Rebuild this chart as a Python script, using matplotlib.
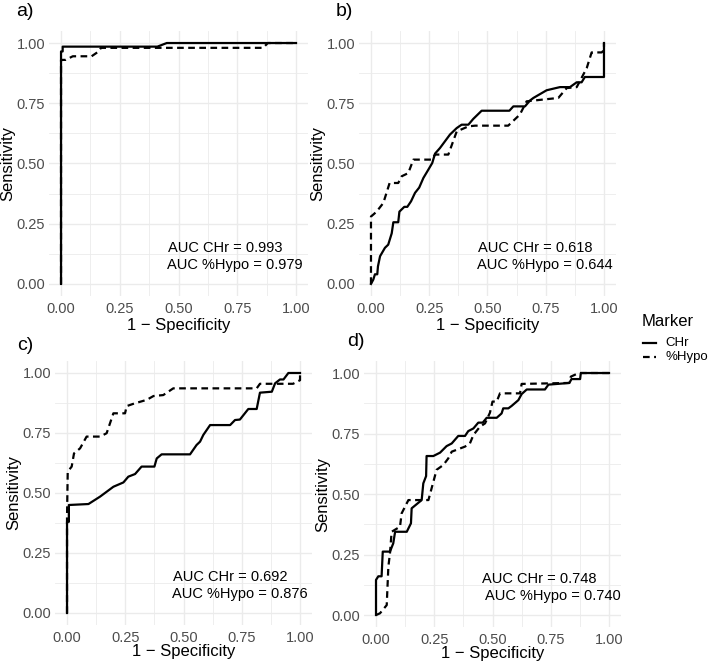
import matplotlib.pyplot as plt
from matplotlib.lines import Line2D

plt.rcParams['font.family'] = ['Liberation Sans', 'DejaVu Sans']

panel_labels = ['a)', 'b)', 'c)', 'd)']
auc_chr = ['0.993', '0.618', '0.692', '0.748']
auc_hypo = ['0.979', '0.644', '0.876', '0.740']
ticks = [0.0, 0.25, 0.5, 0.75, 1.0]
tick_labels = ['0.00', '0.25', '0.50', '0.75', '1.00']
legend_title = 'Marker'
legend_labels = ['CHr', '%Hypo']

# Panel a
a_chr_x = [0, 0, 0.007, 0.007, 0.41, 0.45, 1.0]
a_chr_y = [0, 0.965, 0.965, 0.985, 0.985, 1.0, 1.0]
a_hypo_x = [0, 0, 0.02, 0.05, 0.13, 0.16, 0.17, 0.86, 0.88, 1.0]
a_hypo_y = [0, 0.93, 0.93, 0.945, 0.945, 0.965, 0.98, 0.98, 1.0, 1.0]

# Panel b
b_chr_x = [0, 0.01, 0.017, 0.027, 0.03, 0.039, 0.06, 0.074, 0.089, 0.096, 0.117,
           0.122, 0.143, 0.156, 0.172, 0.189, 0.207, 0.225, 0.246, 0.263, 0.275,
           0.296, 0.339, 0.368, 0.389, 0.418, 0.439, 0.475, 0.594, 0.611, 0.661,
           0.682, 0.697, 0.754, 0.811, 0.854, 0.883, 0.904, 0.918, 1.0, 1.0, 1.0]
b_chr_y = [0, 0.018, 0.04, 0.04, 0.073, 0.115, 0.15, 0.163, 0.21, 0.256, 0.256,
           0.30, 0.32, 0.32, 0.343, 0.378, 0.40, 0.44, 0.474, 0.502, 0.541,
           0.564, 0.62, 0.647, 0.661, 0.661, 0.685, 0.719, 0.719, 0.737, 0.737,
           0.761, 0.772, 0.804, 0.817, 0.817, 0.837, 0.837, 0.859, 0.859, 0.903, 1.0]
b_hypo_x = [0, 0, 0.01, 0.024, 0.053, 0.08, 0.117, 0.132, 0.16, 0.182, 0.26,
            0.275, 0.332, 0.368, 0.418, 0.447, 0.589, 0.639, 0.668, 0.735, 0.804,
            0.84, 0.883, 0.926, 0.947, 0.99, 1.0, 1.0]
b_hypo_y = [0, 0.28, 0.288, 0.30, 0.336, 0.419, 0.419, 0.447, 0.46, 0.516, 0.516,
            0.537, 0.537, 0.633, 0.654, 0.657, 0.657, 0.703, 0.758, 0.765, 0.772,
            0.813, 0.817, 0.896, 0.961, 0.961, 0.97, 1.0]

# Panel c
c_chr_x = [0, 0, 0.008, 0.008, 0.092, 0.142, 0.199, 0.242, 0.263, 0.292, 0.32,
           0.375, 0.385, 0.406, 0.528, 0.556, 0.571, 0.585, 0.614, 0.70, 0.721,
           0.742, 0.778, 0.814, 0.828, 0.879, 0.893, 0.914, 0.929, 0.95, 1.0]
c_chr_y = [0, 0.38, 0.38, 0.45, 0.454, 0.485, 0.526, 0.544, 0.568, 0.579, 0.61,
           0.61, 0.644, 0.661, 0.661, 0.70, 0.714, 0.742, 0.783, 0.783, 0.804,
           0.806, 0.85, 0.85, 0.918, 0.922, 0.957, 0.973, 0.973, 1.0, 1.0]
c_hypo_x = [0, 0, 0.003, 0.02, 0.03, 0.056, 0.084, 0.142, 0.17, 0.199, 0.249,
            0.256, 0.292, 0.342, 0.371, 0.413, 0.456, 0.814, 0.828, 0.97, 1.0, 1.0]
c_hypo_y = [0, 0.40, 0.589, 0.61, 0.665, 0.686, 0.735, 0.735, 0.749, 0.832, 0.832,
            0.862, 0.874, 0.888, 0.904, 0.908, 0.936, 0.936, 0.955, 0.955, 0.97, 1.0]

# Panel d
d_chr_x = [0, 0, 0.01, 0.024, 0.029, 0.06, 0.074, 0.082, 0.132, 0.15, 0.153,
           0.196, 0.203, 0.215, 0.217, 0.246, 0.275, 0.303, 0.325, 0.353, 0.382,
           0.396, 0.418, 0.439, 0.458, 0.475, 0.518, 0.539, 0.546, 0.568, 0.582,
           0.611, 0.625, 0.647, 0.725, 0.74, 0.83, 0.839, 0.876, 0.879, 1.0]
d_chr_y = [0, 0.145, 0.16, 0.16, 0.262, 0.262, 0.296, 0.344, 0.344, 0.379, 0.441,
           0.475, 0.544, 0.574, 0.657, 0.657, 0.671, 0.698, 0.709, 0.74, 0.74,
           0.76, 0.771, 0.795, 0.795, 0.815, 0.815, 0.833, 0.854, 0.854, 0.864,
           0.888, 0.913, 0.932, 0.932, 0.952, 0.959, 0.975, 0.975, 1.0, 1.0]
d_hypo_x = [0, 0.017, 0.046, 0.053, 0.06, 0.067, 0.103, 0.11, 0.139, 0.225, 0.26,
            0.289, 0.31, 0.325, 0.382, 0.403, 0.418, 0.446, 0.468, 0.489, 0.5,
            0.518, 0.532, 0.618, 0.625, 0.829, 0.836, 0.87, 1.0]
d_hypo_y = [0, 0.007, 0.041, 0.2, 0.255, 0.344, 0.365, 0.42, 0.475, 0.475, 0.6,
            0.62, 0.647, 0.675, 0.696, 0.709, 0.744, 0.778, 0.792, 0.836, 0.882,
            0.882, 0.916, 0.916, 0.955, 0.959, 0.985, 1.0, 1.0]

chr_x = [a_chr_x, b_chr_x, c_chr_x, d_chr_x]
chr_y = [a_chr_y, b_chr_y, c_chr_y, d_chr_y]
hypo_x = [a_hypo_x, b_hypo_x, c_hypo_x, d_hypo_x]
hypo_y = [a_hypo_y, b_hypo_y, c_hypo_y, d_hypo_y]

# layout (figure fractions) and annotation spots (data coords)
axes_pos = [[0.0695, 0.5529, 0.3646, 0.4003],
            [0.5068, 0.5529, 0.3615, 0.4003],
            [0.0781, 0.0559, 0.3615, 0.3988],
            [0.5139, 0.0527, 0.3615, 0.4021]]
label_pos = [(16, 12), (336, 12), (17, 345), (347, 342)]
text_pos = [((0.455, 0.149), (0.451, 0.079)),
            ((0.459, 0.149), (0.454, 0.079)),
            ((0.455, 0.151), (0.451, 0.079)),
            ((0.454, 0.149), (0.468, 0.079))]

W, H = 709, 662
fig = plt.figure(figsize=(W / 100, H / 100), dpi=100)

solid_style = dict(color='black', linewidth=1.6)
dash_style = dict(color='black', linewidth=1.6, dashes=(3, 2))

grid_col = '#EBEBEB'
for i in range(4):
    ax = fig.add_axes(axes_pos[i])
    ax.set_xlim(-0.05, 1.05)
    ax.set_ylim(-0.05, 1.05)
    ax.set_xticks(ticks)
    ax.set_xticklabels(tick_labels)
    ax.set_yticks(ticks)
    ax.set_yticklabels(tick_labels)
    ax.set_xticks([0.125, 0.375, 0.625, 0.875], minor=True)
    ax.set_yticks([0.125, 0.375, 0.625, 0.875], minor=True)
    ax.grid(which='major', color=grid_col, linewidth=1.0)
    ax.grid(which='minor', color=grid_col, linewidth=0.6)
    ax.set_axisbelow(True)
    for s in ax.spines.values():
        s.set_visible(False)
    ax.tick_params(which='both', length=0, labelsize=10.5, labelcolor='#4D4D4D', pad=3)
    ax.tick_params(axis='x', pad=4.5)

    ax.plot(chr_x[i], chr_y[i], **solid_style)
    ax.plot(hypo_x[i], hypo_y[i], **dash_style)

    # bottom row sits close to the figure edge
    ax.set_xlabel('1 \u2212 Specificity', fontsize=12, labelpad=1 if i < 2 else -1)
    ax.set_ylabel('Sensitivity', fontsize=12, labelpad=1)

    (x1, y1), (x2, y2) = text_pos[i]
    ax.text(x1, y1, 'AUC CHr = ' + auc_chr[i], fontsize=10.5, va='center', ha='left')
    ax.text(x2, y2, 'AUC %Hypo = ' + auc_hypo[i], fontsize=10.5, va='center', ha='left')

    lx, ly = label_pos[i]
    fig.text(lx / W, 1 - ly / H, panel_labels[i], fontsize=14, ha='left', va='center')

# Legend (drawn by hand to get ggplot-like spacing)
fig.text(642 / W, 1 - 321 / H, legend_title, fontsize=12, ha='left', va='center')
for k, (style, y) in enumerate(zip([solid_style, dash_style], [343, 357])):
    fig.add_artist(Line2D([643 / W, 656 / W], [1 - y / H, 1 - y / H],
                          transform=fig.transFigure, **style))
    fig.text(665 / W, 1 - y / H, legend_labels[k], fontsize=9.5, ha='left', va='center')

fig.savefig('out.png', dpi=100)
